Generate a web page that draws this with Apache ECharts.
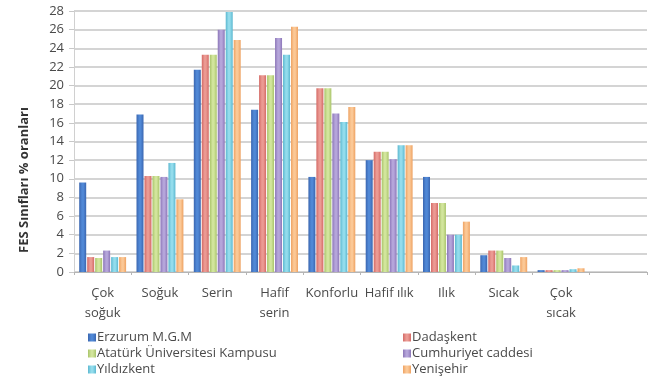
<!DOCTYPE html>
<html>
<head>
<meta charset="utf-8">
<script src="https://cdn.jsdelivr.net/npm/echarts@6/dist/echarts.min.js"></script>
<style>
  html, body { margin: 0; padding: 0; background: #fff; }
  #chart { width: 652px; height: 382px; }
</style>
</head>
<body>
<div id="chart"></div>
<script>
// FES thermal comfort class shares (%) per station
const categories = ['Çok\nsoğuk', 'Soğuk', 'Serin', 'Hafif\nserin', 'Konforlu', 'Hafif ılık', 'Ilık', 'Sıcak', 'Çok\nsıcak', ''];
const yTicks = { min: 0, max: 28, interval: 2 };

const erzurumMGM   = [9.6, 16.9, 21.7, 17.4, 10.2, 12.0, 10.2, 1.8, 0.2];
const dadaskent    = [1.6, 10.3, 23.3, 21.1, 19.7, 12.9, 7.4, 2.3, 0.2];
const ataturkUni   = [1.5, 10.3, 23.3, 21.1, 19.7, 12.9, 7.4, 2.3, 0.2];
const cumhuriyet   = [2.3, 10.2, 26.0, 25.1, 17.0, 12.1, 4.0, 1.5, 0.2];
const yildizkent   = [1.6, 11.7, 27.9, 23.3, 16.1, 13.6, 4.0, 0.7, 0.3];
const yenisehir    = [1.6,  7.8, 24.9, 26.3, 17.7, 13.6, 5.4, 1.6, 0.4];

const seriesNames = ['Erzurum M.G.M', 'Dadaşkent', 'Atatürk Üniversitesi Kampusu', 'Cumhuriyet caddesi', 'Yıldızkent', 'Yenişehir'];
const seriesData = [erzurumMGM, dadaskent, ataturkUni, cumhuriyet, yildizkent, yenisehir];
// [edge, centre] colour pairs for the shaded bar faces
const palette = [
  ['#3a66b0', '#5088d6'],
  ['#d46a66', '#eb9a93'],
  ['#a9c46a', '#d2e59c'],
  ['#8c76b8', '#b5a5da'],
  ['#5cb8d0', '#93dcec'],
  ['#eea262', '#fbc896']
];

function barFill(p) {
  return new echarts.graphic.LinearGradient(0, 0, 1, 0, [
    { offset: 0, color: p[0] },
    { offset: 0.4, color: p[1] },
    { offset: 0.6, color: p[1] },
    { offset: 1, color: p[0] }
  ]);
}

const font = 'Open Sans';
const textColor = '#4a4a4a';

// two stacked legend columns, three rows each
const legendBase = {
  orient: 'vertical', top: 331, height: 60, padding: 0,
  itemWidth: 8, itemHeight: 8, itemGap: 3, icon: 'rect',
  textStyle: { fontFamily: font, fontSize: 13, color: textColor, padding: [0, 0, 0, -4] }
};

const chart = echarts.init(document.getElementById('chart'));
chart.setOption({
  animation: false,
  backgroundColor: '#fff',
  grid: { left: 74, right: 5, top: 11, bottom: 110, containLabel: false },
  legend: [
    Object.assign({}, legendBase, { data: [seriesNames[0], seriesNames[2], seriesNames[4]], left: 88 }),
    Object.assign({}, legendBase, { data: [seriesNames[1], seriesNames[3], seriesNames[5]], left: 403 })
  ],
  xAxis: {
    type: 'category',
    data: categories,
    boundaryGap: true,
    axisLine: { lineStyle: { color: '#b5b5b5', width: 1 } },
    axisTick: { show: true, length: 3, alignWithLabel: false, lineStyle: { color: '#b5b5b5' } },
    axisLabel: {
      interval: 0, margin: 11, fontFamily: font, fontSize: 13, color: textColor, lineHeight: 20
    },
    splitLine: { show: false }
  },
  yAxis: {
    type: 'value',
    min: yTicks.min, max: yTicks.max, interval: yTicks.interval,
    axisLine: { show: true, lineStyle: { color: '#d0d0d0' } },
    axisTick: { show: true, length: 5, lineStyle: { color: '#c8c8c8' } },
    axisLabel: { fontFamily: font, fontSize: 13, color: textColor, margin: 10 },
    splitLine: { lineStyle: { color: '#c6c6c6', width: 1.5 } }
  },
  graphic: [{
    type: 'text',
    x: 24, y: 180,
    rotation: Math.PI / 2,
    style: {
      text: 'FES Sınıfları % oranları',
      fontFamily: font, fontSize: 13, fontWeight: 'bold', fill: '#333',
      textAlign: 'center', textVerticalAlign: 'middle'
    }
  }],
  series: seriesNames.map((name, i) => ({
    name,
    type: 'bar',
    data: seriesData[i],
    barWidth: 7,
    barGap: '14%',
    itemStyle: { color: barFill(palette[i]) }
  }))
});
</script>
</body>
</html>
